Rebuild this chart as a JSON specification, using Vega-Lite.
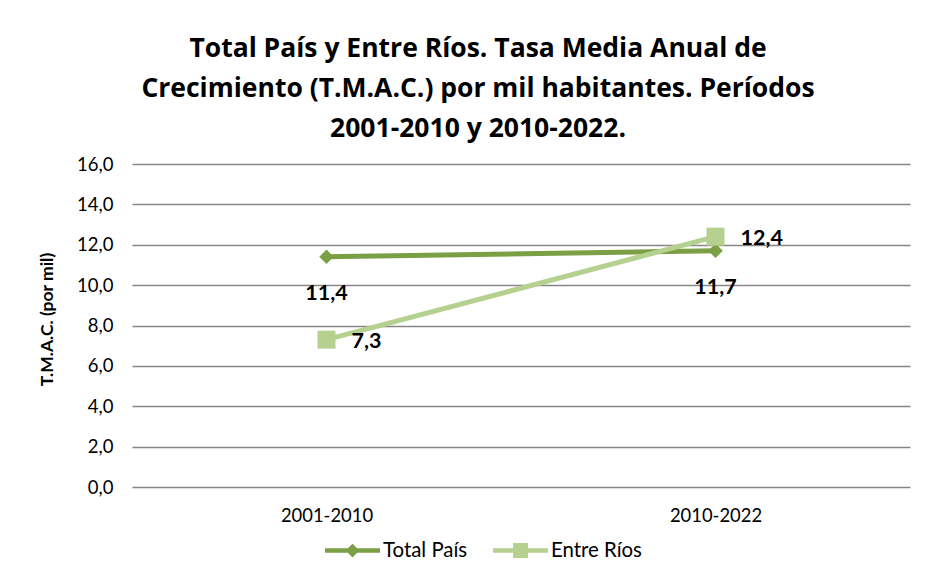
{
  "$schema": "https://vega.github.io/schema/vega-lite/v6.json",
  "width": 778,
  "height": 323,
  "autosize": "none",
  "padding": {"left": 132, "top": 164, "right": 26, "bottom": 93},
  "background": "white",
  "config": {
    "font": "Lato",
    "view": {"stroke": null},
    "locale": {"number": {"decimal": ",", "thousands": ".", "grouping": [3], "currency": ["$", ""]}}
  },
  "title": {
    "text": ["Total País y Entre Ríos. Tasa Media Anual de", "Crecimiento (T.M.A.C.) por mil habitantes. Períodos", "2001-2010 y 2010-2022."],
    "font": "Open Sans",
    "fontSize": 26.5,
    "fontWeight": "bold",
    "color": "#000000",
    "anchor": "middle",
    "lineHeight": 40,
    "offset": 13,
    "dx": -43
  },
  "data": {
    "values": [
      {"periodo": "2001-2010", "serie": "Total País", "valor": 11.4},
      {"periodo": "2010-2022", "serie": "Total País", "valor": 11.7},
      {"periodo": "2001-2010", "serie": "Entre Ríos", "valor": 7.3},
      {"periodo": "2010-2022", "serie": "Entre Ríos", "valor": 12.4}
    ]
  },
  "encoding": {
    "x": {
      "field": "periodo",
      "type": "nominal",
      "sort": ["2001-2010", "2010-2022"],
      "scale": {"paddingInner": 0, "paddingOuter": 0},
      "axis": {"title": null, "labelAngle": 0, "domain": false, "ticks": false, "labelFontSize": 18.4, "labelColor": "#000000", "labelPadding": 19, "labelFont": "Lato"}
    },
    "y": {
      "field": "valor",
      "type": "quantitative",
      "scale": {"domain": [0, 16], "nice": false},
      "axis": {
        "title": "T.M.A.C. (por mil)",
        "titleFontSize": 17.5,
        "titleFontWeight": "bold",
        "titleColor": "#000000",
        "titlePadding": 20,
        "titleY": 155,
        "values": [0, 2, 4, 6, 8, 10, 12, 14, 16],
        "format": ".1f",
        "domain": false,
        "ticks": false,
        "labelFontSize": 18.5,
        "labelColor": "#000000",
        "labelPadding": 19,
        "gridColor": "#868686",
        "gridWidth": 1.3,
        "gridOpacity": 1
      }
    }
  },
  "layer": [
    {
      "mark": {"type": "line", "strokeWidth": 5},
      "encoding": {
        "color": {
          "field": "serie",
          "type": "nominal",
          "scale": {"domain": ["Total País", "Entre Ríos"], "range": ["#7A9F44", "#B6D08F"]},
          "legend": {
            "title": null,
            "orient": "none",
            "legendX": 193,
            "legendY": 359,
            "direction": "horizontal",
            "labelFontSize": 20.4,
            "labelColor": "#000000",
            "labelFont": "Lato",
            "symbolSize": 3025,
            "symbolType": "M-1,-0.08H1V0.08H-1Z",
            "columnPadding": 25,
            "labelOffset": 3,
            "encode": {
              "symbols": {
                "update": {
                  "shape": {"signal": "datum.value === 'Total País' ? 'M-1,-0.08H1V0.08H-1Z M0,-0.25L0.25,0L0,0.25L-0.25,0Z' : 'M-1,-0.08H1V0.08H-1Z M-0.27,-0.27H0.27V0.27H-0.27Z'"},
                  "fill": {"signal": "datum.value === 'Total País' ? '#7A9F44' : '#B6D08F'"},
                  "stroke": {"value": "transparent"},
                  "strokeWidth": {"value": 0},
                  "opacity": {"value": 1},
                  "fillOpacity": {"value": 1}
                }
              }
            }
          }
        }
      }
    },
    {
      "transform": [{"filter": "datum.serie === 'Total País'"}],
      "mark": {"type": "point", "filled": true, "opacity": 1, "shape": "diamond", "size": 210, "color": "#7A9F44"}
    },
    {
      "transform": [{"filter": "datum.serie === 'Entre Ríos'"}],
      "mark": {"type": "point", "filled": true, "opacity": 1, "shape": "square", "size": 324, "color": "#B6D08F"}
    },
    {
      "transform": [{"filter": "datum.serie === 'Total País'"}],
      "mark": {"type": "text", "fontSize": 21.5, "fontWeight": "bold", "color": "#000000", "dx": 0, "dy": 37, "align": "center", "baseline": "middle", "font": "Lato"},
      "encoding": {"text": {"field": "valor", "type": "quantitative", "format": ".1f"}}
    },
    {
      "transform": [{"filter": "datum.serie === 'Entre Ríos'"}],
      "mark": {"type": "text", "fontSize": 21.5, "fontWeight": "bold", "color": "#000000", "dx": 25, "dy": 2, "align": "left", "baseline": "middle", "font": "Lato"},
      "encoding": {"text": {"field": "valor", "type": "quantitative", "format": ".1f"}}
    }
  ]
}
